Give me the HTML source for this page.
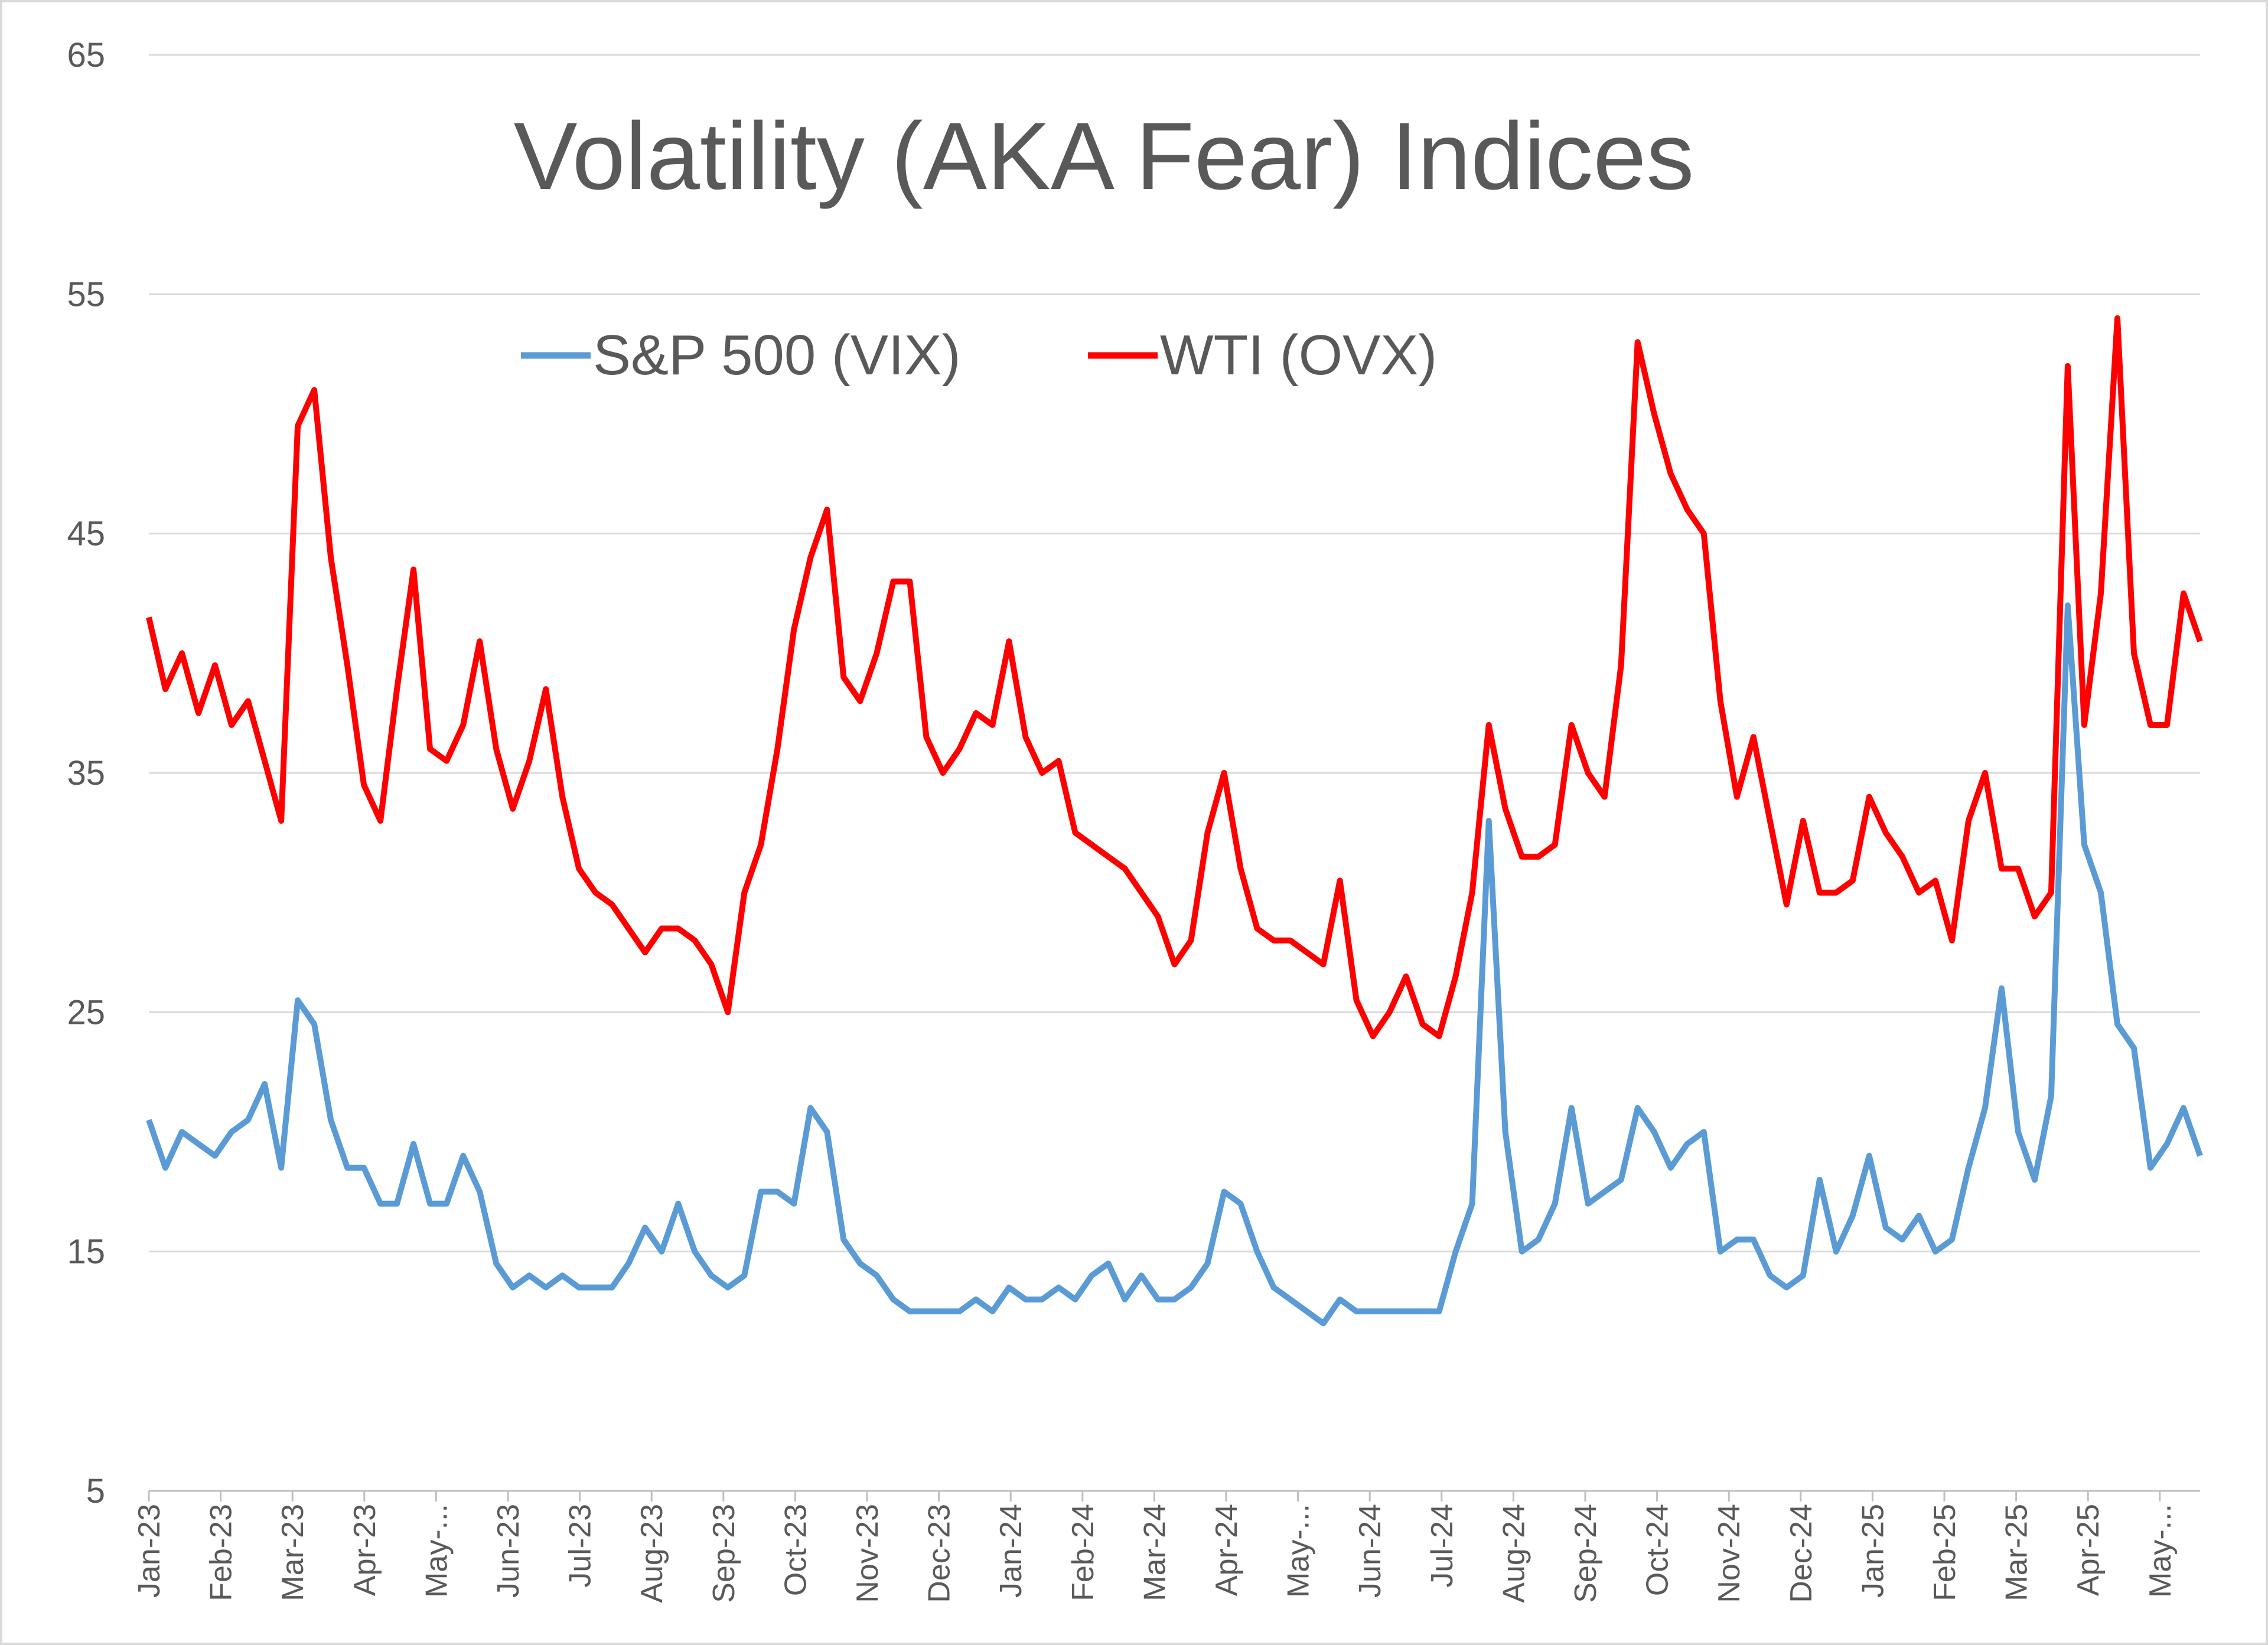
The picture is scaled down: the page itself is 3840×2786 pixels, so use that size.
<!DOCTYPE html>
<html><head><meta charset="utf-8"><style>
html,body{margin:0;padding:0;background:#fff;}
svg{display:block;font-family:"Liberation Sans",sans-serif;}
</style></head><body>
<svg id="chart" width="3840" height="2786" viewBox="0 0 3840 2786">
<rect x="2" y="2" width="3836" height="2782" fill="#fff" stroke="#d9d9d9" stroke-width="4"/>
<g id="grid"></g>
<g id="yticks"></g>
<g id="xaxis"></g>
<g id="series"></g>
<text x="1869" y="320" text-anchor="middle" font-size="162" fill="#595959">Volatility (AKA Fear) Indices</text>
<g>
<g>
<line x1="882" y1="602" x2="1000" y2="602" stroke="#5b9bd5" stroke-width="11"/>
<text x="1004" y="634" font-size="96" fill="#595959">S&amp;P 500 (VIX)</text>
</g>
<g>
<line x1="1842" y1="602" x2="1960" y2="602" stroke="#ff0000" stroke-width="11"/>
<text x="1964" y="634" font-size="96" fill="#595959">WTI (OVX)</text>
</g>
</g>
</svg>
<script>
const yTicks = [5, 15, 25, 35, 45, 55, 65];
const monthLabels = ["Jan-23","Feb-23","Mar-23","Apr-23","May-...","Jun-23","Jul-23","Aug-23","Sep-23","Oct-23","Nov-23","Dec-23","Jan-24","Feb-24","Mar-24","Apr-24","May-...","Jun-24","Jul-24","Aug-24","Sep-24","Oct-24","Nov-24","Dec-24","Jan-25","Feb-25","Mar-25","Apr-25","May-..."];
const ovx = [41.5,38.5,40,37.5,39.5,37,38,35.5,33,49.5,51,44,39.5,34.5,33,38.5,43.5,36,35.5,37,40.5,36,33.5,35.5,38.5,34,31,30,29.5,28.5,27.5,28.5,28.5,28,27,25,30,32,36,41,44,46,39,38,40,43,43,36.5,35,36,37.5,37,40.5,36.5,35,35.5,32.5,32,31.5,31,30,29,27,28,32.5,35,31,28.5,28,28,27.5,27,30.5,25.5,24,25,26.5,24.5,24,26.5,30,37,33.5,31.5,31.5,32,37,35,34,39.5,53,50,47.5,46,45,38,34,36.5,33,29.5,33,30,30,30.5,34,32.5,31.5,30,30.5,28,33,35,31,31,29,30,52,37,42.5,54,40,37,37,42.5,40.5];
const vix = [20.5,18.5,20,19.5,19,20,20.5,22,18.5,25.5,24.5,20.5,18.5,18.5,17,17,19.5,17,17,19,17.5,14.5,13.5,14,13.5,14,13.5,13.5,13.5,14.5,16,15,17,15,14,13.5,14,17.5,17.5,17,21,20,15.5,14.5,14,13,12.5,12.5,12.5,12.5,13,12.5,13.5,13,13,13.5,13,14,14.5,13,14,13,13,13.5,14.5,17.5,17,15,13.5,13,12.5,12,13,12.5,12.5,12.5,12.5,12.5,12.5,15,17,33,20,15,15.5,17,21,17,17.5,18,21,20,18.5,19.5,20,15,15.5,15.5,14,13.5,14,18,15,16.5,19,16,15.5,16.5,15,15.5,18.5,21,26,20,18,21.5,42,32,30,24.5,23.5,18.5,19.5,21,19];

const NS="http://www.w3.org/2000/svg";
const L=252,R=3725,T=93,B=2525;
const yS=v=>B-(v-5)/60*(B-T);
const xW=i=>L+i*(R-L)/(ovx.length-1);
const xM=m=>L+m*121.6;
function mk(tag,attrs,parent){const e=document.createElementNS(NS,tag);for(const k in attrs)e.setAttribute(k,attrs[k]);parent.appendChild(e);return e;}
const grid=document.getElementById('grid'),yt=document.getElementById('yticks'),xa=document.getElementById('xaxis'),ser=document.getElementById('series');
yTicks.forEach(v=>{
  const g=mk('line',{x1:L,x2:R,y1:yS(v),y2:yS(v),stroke:v===5?'#bfbfbf':'#d9d9d9','stroke-width':3},grid);
  
  
  const t=mk('text',{x:178,y:yS(v)+20,'text-anchor':'end','font-size':58,fill:'#595959'},yt);
  t.textContent=v;
  
  
});
monthLabels.forEach((lab,m)=>{
  const x=xM(m);
  const tk=mk('line',{x1:x,x2:x,y1:B,y2:B+18,stroke:'#bfbfbf','stroke-width':3},xa);
  
  
  const t=mk('text',{x:0,y:0,'text-anchor':'end','font-size':52,fill:'#595959',transform:`translate(${x+18},${B+22}) rotate(-90)`},xa);
  t.textContent=lab;
  
  
});
function line(arr,color,name){
  const d=arr.map((v,i)=>(i?'L':'M')+xW(i).toFixed(1)+','+yS(v).toFixed(1)).join('');
  const p=mk('path',{d:d,fill:'none',stroke:color,'stroke-width':10,'stroke-linejoin':'round'},ser);
  
  
}
line(vix,'#5b9bd5','vix-line');
line(ovx,'#ff0000','ovx-line');
</script>
</body></html>
